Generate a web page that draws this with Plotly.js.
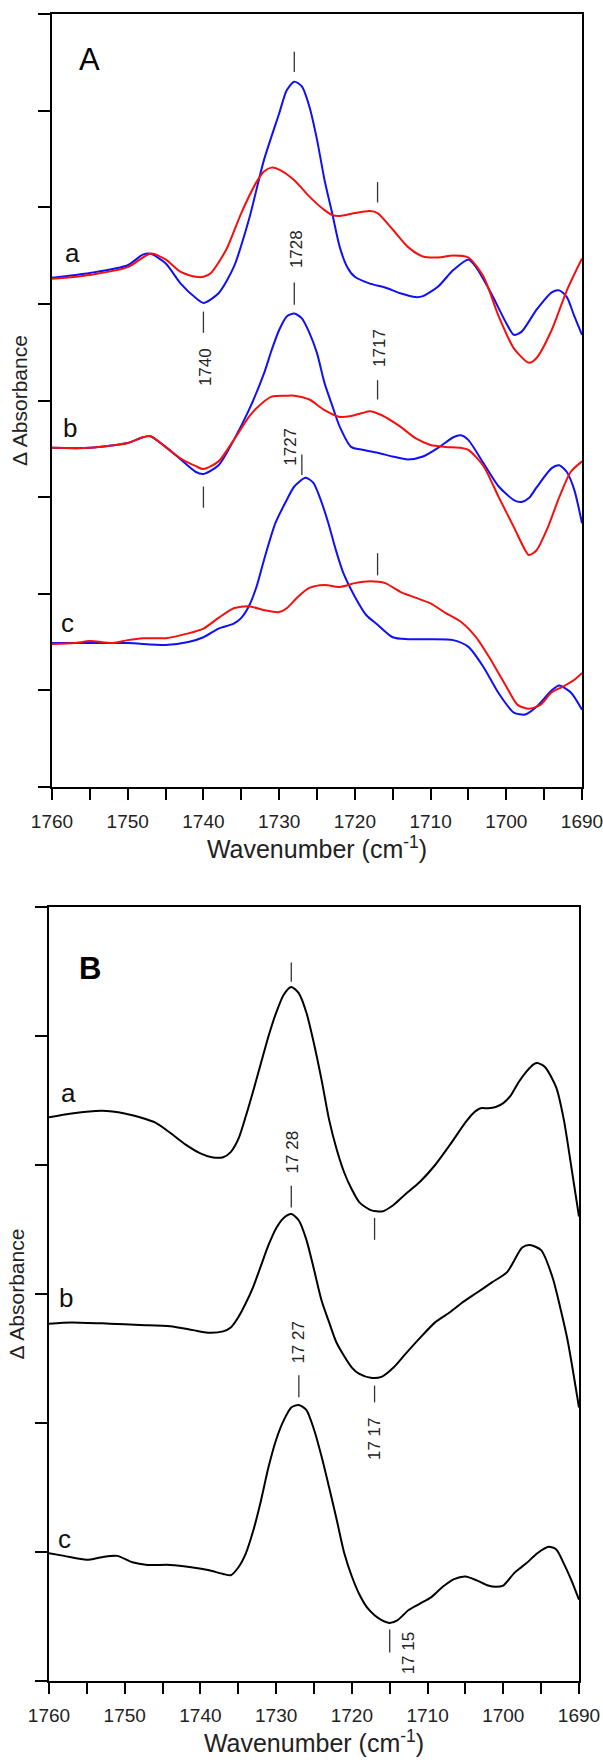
<!DOCTYPE html>
<html><head><meta charset="utf-8">
<script src="https://cdn.plot.ly/plotly-3.0.1.min.js"></script>
<style>html,body{margin:0;padding:0;background:#fff}#chart{width:603px;height:1762px}</style>
</head><body><div id="chart"></div>
<script>
// ---------------- DATA ----------------
// Panel A (arbitrary Δ absorbance units, spectra offset)
const wnA_a_blue = [1760,1755,1750,1748,1747,1745,1743,1741,1740,1738,1736,1734,1732,1730,1729,1728,1727,1726,1725,1724,1723,1722,1721,1720,1718,1716,1714,1712,1711,1709,1707,1705,1704,1702,1700,1699,1698,1696,1694,1693,1692,1691,1690];
const A_a_blue   = [5.27,5.32,5.40,5.51,5.52,5.42,5.21,5.06,5.01,5.11,5.38,5.87,6.49,6.97,7.21,7.30,7.25,7.04,6.70,6.28,5.94,5.59,5.38,5.28,5.21,5.17,5.11,5.07,5.08,5.18,5.35,5.46,5.38,5.11,4.80,4.68,4.71,4.94,5.12,5.14,5.07,4.87,4.68];
const wnA_a_red  = [1760,1755,1750,1747,1745,1743,1741,1740,1739,1737,1735,1733,1732,1731,1730,1728,1726,1724,1723,1722,1720,1718,1717,1715,1713,1711,1709,1707,1705,1703,1701,1699,1697,1696,1694,1692,1690];
const A_a_red    = [5.26,5.30,5.38,5.52,5.46,5.33,5.28,5.28,5.32,5.56,5.94,6.26,6.37,6.41,6.39,6.28,6.11,5.97,5.92,5.91,5.94,5.96,5.94,5.77,5.59,5.49,5.48,5.50,5.48,5.28,4.87,4.54,4.39,4.44,4.73,5.14,5.47];
const wnA_b_blue = [1760,1755,1750,1748,1747,1745,1743,1741,1740,1738,1736,1734,1732,1731,1730,1729,1728,1727,1726,1725,1724,1723,1722,1720.5,1719,1717,1715,1713,1711,1709,1707,1706,1705,1703,1701,1699,1698,1697,1696,1694,1693,1692,1691,1690];
const A_b_blue   = [3.51,3.51,3.56,3.62,3.63,3.52,3.39,3.26,3.24,3.33,3.59,3.90,4.28,4.52,4.73,4.87,4.90,4.85,4.70,4.49,4.18,3.95,3.73,3.52,3.49,3.46,3.42,3.39,3.42,3.51,3.62,3.64,3.59,3.35,3.11,2.97,2.95,2.99,3.10,3.30,3.33,3.26,3.07,2.73];
const wnA_b_red  = [1760,1755,1750,1748,1747,1745,1743,1741,1740,1738,1736,1734,1733,1731,1729,1728,1726,1724,1722,1720.5,1719,1718,1716.5,1714,1712,1710,1708,1706,1705,1703,1701,1699,1697.5,1697,1696,1694.5,1693,1691.5,1690];
const A_b_red    = [3.51,3.51,3.56,3.62,3.63,3.52,3.40,3.32,3.29,3.37,3.59,3.83,3.92,4.04,4.05,4.05,4.01,3.90,3.83,3.84,3.87,3.89,3.85,3.73,3.61,3.54,3.52,3.51,3.49,3.32,3.00,2.69,2.45,2.40,2.45,2.69,3.00,3.26,3.37];
const wnA_c_blue = [1760,1755,1750,1745,1742,1740,1738,1736,1735,1734,1733,1732,1730.5,1729,1728,1726.5,1725.5,1724.5,1723.5,1722.5,1721.5,1720,1718.5,1717,1715,1713,1710,1707,1705,1703,1701,1699,1697.5,1696,1694,1693,1691.5,1690];
const A_c_blue   = [1.49,1.49,1.49,1.47,1.50,1.55,1.64,1.69,1.75,1.87,2.07,2.35,2.73,2.97,3.11,3.20,3.15,2.97,2.73,2.45,2.21,1.97,1.78,1.68,1.55,1.53,1.53,1.52,1.45,1.24,0.97,0.77,0.75,0.83,1.00,1.05,0.98,0.80];
const wnA_c_red  = [1760,1757,1755,1752,1750,1748,1745,1742,1740,1738,1736,1734,1732,1730,1729,1727.5,1726,1724,1722,1720,1718,1716,1714,1712,1710,1708,1706,1704,1702,1700,1698.5,1697,1695.5,1694,1692.5,1691,1690];
const A_c_red    = [1.48,1.49,1.51,1.49,1.52,1.54,1.54,1.59,1.64,1.75,1.85,1.87,1.83,1.81,1.85,1.97,2.06,2.09,2.07,2.11,2.13,2.11,2.02,1.96,1.90,1.80,1.71,1.55,1.31,1.04,0.85,0.81,0.85,0.98,1.04,1.11,1.18];

// Panel B (black difference spectra)
const wnB_a = [1760,1757,1753,1750,1748,1746,1744,1742,1740,1738.5,1737,1736,1735,1734,1733,1732,1731,1730,1729,1728,1727,1726,1725,1724,1723,1722,1721,1720,1719,1717.5,1716,1714.5,1713,1711,1709,1707,1705,1704,1703,1702,1701,1700,1699,1698,1697,1696,1695.5,1694.5,1693,1692,1691,1690];
const B_a   = [4.37,4.40,4.42,4.40,4.37,4.33,4.25,4.16,4.09,4.06,4.06,4.10,4.20,4.38,4.58,4.79,5.00,5.18,5.32,5.38,5.33,5.18,4.94,4.66,4.35,4.12,3.94,3.81,3.71,3.65,3.64,3.69,3.77,3.87,4.00,4.16,4.33,4.40,4.44,4.44,4.45,4.48,4.54,4.64,4.72,4.78,4.79,4.76,4.60,4.35,3.98,3.60];
const wnB_b = [1760,1757,1752,1748,1744,1741,1739,1737,1736,1735,1734,1733,1732,1731,1730,1729,1728,1727,1726,1725,1724,1723,1722,1720,1719,1717.5,1716,1714.5,1713,1711,1709,1707,1705.5,1703.5,1701.5,1699.5,1697.5,1696.5,1695,1693.5,1692.5,1691.5,1690];
const B_b   = [2.77,2.78,2.77,2.76,2.75,2.72,2.70,2.71,2.74,2.82,2.93,3.06,3.22,3.38,3.51,3.59,3.62,3.57,3.42,3.19,2.95,2.78,2.62,2.43,2.38,2.35,2.36,2.43,2.53,2.66,2.78,2.86,2.93,3.01,3.09,3.17,3.36,3.38,3.34,3.13,2.90,2.64,2.12];
const wnB_c = [1760,1758,1755,1753,1751,1749,1747,1744,1741,1739,1737,1736,1735,1734,1733,1732,1731,1730,1729,1728,1727,1726,1725,1724,1723,1722,1721,1720,1719,1718,1717,1716,1715,1714,1712.5,1711,1709.5,1708,1706.5,1705,1703.5,1702,1701,1700,1698.5,1697,1695.5,1694,1693,1692,1691,1690];
const B_c   = [0.99,0.97,0.94,0.96,0.97,0.92,0.90,0.90,0.88,0.86,0.83,0.82,0.88,0.99,1.17,1.40,1.66,1.87,2.02,2.12,2.14,2.10,1.95,1.74,1.50,1.25,0.99,0.81,0.67,0.57,0.51,0.47,0.45,0.47,0.55,0.60,0.65,0.73,0.79,0.81,0.78,0.74,0.73,0.74,0.84,0.91,0.99,1.04,1.02,0.91,0.78,0.63];

// Tick labels (major, every 10 cm-1)
const xTickVals = [1760,1750,1740,1730,1720,1710,1700,1690];
const xTickText = ['1760','1750','1740','1730','1720','1710','1700','1690'];

// Peak marks (wavenumber, y from, y to) and peak labels
const markA_wn = [1728,1728,1740,1717,1717,1740,1727,1717];
const markA_y0 = [7.40,4.99,4.70,6.05,4.01,2.89,3.23,2.19];
const markA_y1 = [7.61,5.22,4.92,6.26,4.21,3.11,3.44,2.42];
const labA_text = ['1728','1740','1717','1727'];
const labA_wn   = [1728,1740,1717,1727];
const labA_y    = [5.57,4.35,4.54,3.52];
const markB_wn = [1728,1728,1717,1727,1717,1715];
const markB_y0 = [5.42,3.67,3.42,2.20,2.16,0.22];
const markB_y1 = [5.57,3.84,3.59,2.37,2.29,0.40];
const labB_text = ['17 28','17 27','17 17','17 15'];
const labB_wn   = [1728,1727,1717,1715];
const labB_y    = [4.10,2.63,1.88,0.22];

const curveLabels = ['a','b','c'];

// ---------------- LAYOUT ----------------
const W = 603, H = 1762;
const px = v => v / W, py = v => 1 - v / H;
const FONT = 'Liberation Sans, Arial, Helvetica, sans-serif';
const BLUE = '#1010f5', RED = '#f51010', BLACK = '#000';

function tr(x, y, color, xa, ya) {
  return {x: x, y: y, type: 'scatter', mode: 'lines', xaxis: xa, yaxis: ya,
    line: {color: color, width: 2, shape: 'spline', smoothing: 0.7},
    hoverinfo: 'skip', showlegend: false};
}
const data = [
  tr(wnA_a_blue, A_a_blue, BLUE, 'x', 'y'),
  tr(wnA_a_red,  A_a_red,  RED,  'x', 'y'),
  tr(wnA_b_blue, A_b_blue, BLUE, 'x', 'y'),
  tr(wnA_b_red,  A_b_red,  RED,  'x', 'y'),
  tr(wnA_c_blue, A_c_blue, BLUE, 'x', 'y'),
  tr(wnA_c_red,  A_c_red,  RED,  'x', 'y'),
  tr(wnB_a, B_a, BLACK, 'x2', 'y2'),
  tr(wnB_b, B_b, BLACK, 'x2', 'y2'),
  tr(wnB_c, B_c, BLACK, 'x2', 'y2')
];

const minorX = (dir) => ({dtick: 5, tick0: 1690, ticks: dir, ticklen: 11, tickwidth: 2, tickcolor: '#000', showgrid: false});
const xBottom = (dom, anchor) => ({
  domain: dom, anchor: anchor, range: [1760, 1690], autorange: false,
  tickmode: 'array', tickvals: xTickVals, ticktext: xTickText,
  ticks: 'outside', ticklen: 11, tickwidth: 2, tickcolor: '#000', ticklabelstandoff: 5,
  ticklabeloverflow: 'allow',
  minor: minorX('outside'),
  showline: true, linewidth: 2, linecolor: '#000', mirror: true,
  showgrid: false, zeroline: false,
  tickfont: {family: FONT, size: 19, color: '#222'},
  title: {text: 'Wavenumber (cm<sup>-1</sup>)', font: {family: FONT, size: 25, color: '#222'}, standoff: 8}
});
const xTop = (over, anchor) => ({
  overlaying: over, anchor: anchor, side: 'top', range: [1760, 1690], autorange: false,
  tickmode: 'array', tickvals: xTickVals, ticks: 'inside', ticklen: 11, tickwidth: 2, tickcolor: '#000',
  minor: minorX('inside'),
  showticklabels: false, showline: false, showgrid: false, zeroline: false
});
const yLeft = (dom, anchor, top) => ({
  domain: dom, anchor: anchor, range: [0, top], autorange: false, dtick: 1, tick0: 0,
  ticks: 'outside', ticklen: 12, tickwidth: 2, tickcolor: '#000', showticklabels: false,
  showline: true, linewidth: 2, linecolor: '#000', mirror: true, showgrid: false, zeroline: false,
  title: {text: 'Δ Absorbance', font: {family: FONT, size: 21, color: '#222'}, standoff: 5}
});
const yRight = (over, anchor, top) => ({
  overlaying: over, anchor: anchor, side: 'right', range: [0, top], autorange: false, dtick: 1, tick0: 0,
  ticks: 'inside', ticklen: 12, tickwidth: 2, tickcolor: '#000', showticklabels: false,
  showline: false, showgrid: false, zeroline: false
});

const shapes = [];
markA_wn.forEach((w, i) => shapes.push({type: 'line', xref: 'x', yref: 'y', x0: w, x1: w, y0: markA_y0[i], y1: markA_y1[i], line: {color: '#333', width: 1.3}}));
markB_wn.forEach((w, i) => shapes.push({type: 'line', xref: 'x2', yref: 'y2', x0: w, x1: w, y0: markB_y0[i], y1: markB_y1[i], line: {color: '#333', width: 1.3}}));

const annotations = [];
const labAShift = [3, 2, 2, -11];
labA_text.forEach((t, i) => annotations.push({xref: 'x', yref: 'y', x: labA_wn[i], y: labA_y[i], text: t, textangle: -90, showarrow: false, xanchor: 'center', yanchor: 'middle', xshift: labAShift[i], font: {family: FONT, size: 17, color: '#222'}}));
const labBShift = [1, 0, 0, 19];
labB_text.forEach((t, i) => annotations.push({xref: 'x2', yref: 'y2', x: labB_wn[i], y: labB_y[i], text: t, textangle: -90, showarrow: false, xanchor: 'center', yanchor: 'middle', xshift: labBShift[i], font: {family: FONT, size: 17, color: '#222'}}));

// panel letters
annotations.push({xref: 'paper', yref: 'paper', x: px(89), y: py(60), text: 'A', showarrow: false, xanchor: 'center', yanchor: 'middle', font: {family: FONT, size: 31, color: '#000'}});
annotations.push({xref: 'paper', yref: 'paper', x: px(90), y: py(968), text: '<b>B</b>', showarrow: false, xanchor: 'center', yanchor: 'middle', font: {family: FONT, size: 31, color: '#000'}});
// curve labels
const labPosA = [[72, 253], [70, 428], [67, 623]];
const labPosB = [[68, 1093], [66, 1298], [64, 1539]];
curveLabels.forEach((t, i) => {
  annotations.push({xref: 'paper', yref: 'paper', x: px(labPosA[i][0]), y: py(labPosA[i][1]), text: t, showarrow: false, xanchor: 'center', yanchor: 'middle', font: {family: FONT, size: 26, color: '#111'}});
  annotations.push({xref: 'paper', yref: 'paper', x: px(labPosB[i][0]), y: py(labPosB[i][1]), text: t, showarrow: false, xanchor: 'center', yanchor: 'middle', font: {family: FONT, size: 26, color: '#111'}});
});

const layout = {
  width: W, height: H, margin: {l: 0, r: 0, t: 0, b: 0},
  paper_bgcolor: '#fff', plot_bgcolor: '#fff', showlegend: false,
  font: {family: FONT, color: '#222'},
  xaxis: xBottom([px(52), px(582)], 'y'),
  yaxis: yLeft([py(787), py(14)], 'x', 8),
  xaxis3: xTop('x', 'y'),
  yaxis3: yRight('y', 'x', 8),
  xaxis2: xBottom([px(49), px(579)], 'y2'),
  yaxis2: yLeft([py(1681), py(907)], 'x2', 6),
  xaxis4: xTop('x2', 'y2'),
  yaxis4: yRight('y2', 'x2', 6),
  shapes: shapes,
  annotations: annotations
};

Plotly.newPlot('chart', data, layout, {staticPlot: true, displayModeBar: false});
</script></body></html>
